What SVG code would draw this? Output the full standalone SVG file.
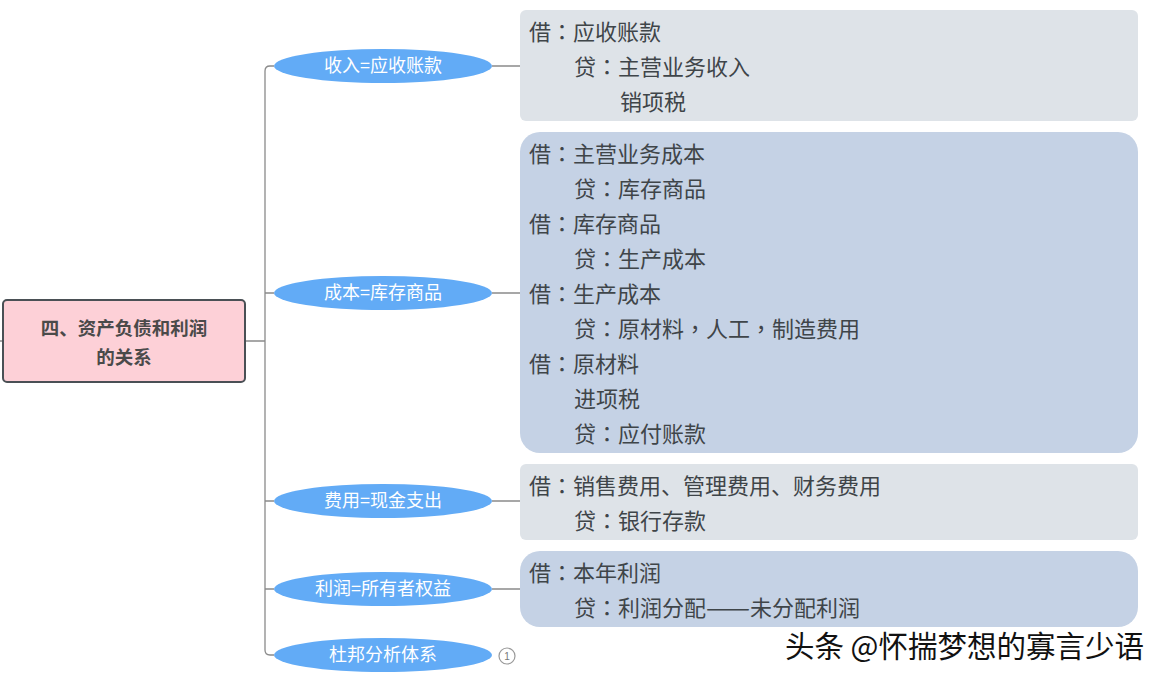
<svg xmlns="http://www.w3.org/2000/svg" width="1166" height="679" viewBox="0 0 1166 679">
<style>
.ln{fill:none;stroke:#8a8a8a;stroke-width:1.3}
.el{fill:#62abf6}
.et{font-family:"Noto Sans CJK SC","Liberation Sans",sans-serif;font-size:18px;fill:#fff;text-anchor:middle}
.bt{font-family:"Noto Sans CJK SC","Liberation Sans",sans-serif;font-size:22px;fill:#3f4549}
.p{font-family:"Noto Sans CJK TC","Noto Sans CJK SC",sans-serif}
.g{fill:#dee3e8}
.b{fill:#c5d2e5}
.rt{font-family:"Noto Sans CJK SC","Liberation Sans",sans-serif;font-size:18.5px;font-weight:bold;fill:#4a4a4a;text-anchor:middle}
</style>
<rect width="1166" height="679" fill="#fff"/>
<g id="connectors">
<path class="ln" d="M0,341 H3 M245,341 H265"/>
<path class="ln" d="M274,66 H270 Q265,66 265,71 V650 Q265,655 270,655 H274"/>
<path class="ln" d="M265,293 H274 M265,501 H274 M265,589 H274"/>
<path class="ln" d="M492,66 H520 M492,293 H520 M492,501 H520 M492,589 H520"/>
</g>
<g id="root">
<rect x="3" y="300" width="242" height="82" rx="4" fill="#fdd0d7" stroke="#4a5055" stroke-width="2"/>
<text class="rt" x="124" y="335">四、资产负债和利润</text>
<text class="rt" x="124" y="364">的关系</text>
</g>
<g id="n1"><ellipse class="el" cx="383" cy="66" rx="109" ry="17"/><text class="et" x="383" y="72">收入=应收账款</text></g>
<g id="n2"><ellipse class="el" cx="383" cy="293" rx="109" ry="17"/><text class="et" x="383" y="299">成本=库存商品</text></g>
<g id="n3"><ellipse class="el" cx="383" cy="501" rx="109" ry="17"/><text class="et" x="383" y="507">费用=现金支出</text></g>
<g id="n4"><ellipse class="el" cx="383" cy="589" rx="109" ry="17"/><text class="et" x="383" y="595">利润=所有者权益</text></g>
<g id="n5"><ellipse class="el" cx="383" cy="655" rx="109" ry="17"/><text class="et" x="383" y="661">杜邦分析体系</text>
<circle cx="507" cy="656" r="8" fill="#fff" stroke="#999" stroke-width="1.2"/><text x="507" y="660" text-anchor="middle" font-family="Liberation Sans,sans-serif" font-size="10" fill="#777">1</text></g>
<g id="box1"><rect class="g" x="520" y="10" width="618" height="111" rx="6"/>
<text class="bt" x="529" y="40">借<tspan class="p">：</tspan>应收账款</text>
<text class="bt" x="574" y="75">贷<tspan class="p">：</tspan>主营业务收入</text>
<text class="bt" x="620" y="110">销项税</text></g>
<g id="box2"><rect class="b" x="520" y="132" width="618" height="321" rx="20"/>
<text class="bt" x="529" y="162">借<tspan class="p">：</tspan>主营业务成本</text>
<text class="bt" x="574" y="197">贷<tspan class="p">：</tspan>库存商品</text>
<text class="bt" x="529" y="232">借<tspan class="p">：</tspan>库存商品</text>
<text class="bt" x="574" y="267">贷<tspan class="p">：</tspan>生产成本</text>
<text class="bt" x="529" y="302">借<tspan class="p">：</tspan>生产成本</text>
<text class="bt" x="574" y="337">贷<tspan class="p">：</tspan>原材料<tspan class="p">，</tspan>人工<tspan class="p">，</tspan>制造费用</text>
<text class="bt" x="529" y="372">借<tspan class="p">：</tspan>原材料</text>
<text class="bt" x="574" y="407">进项税</text>
<text class="bt" x="574" y="442">贷<tspan class="p">：</tspan>应付账款</text></g>
<g id="box3"><rect class="g" x="520" y="464" width="618" height="76" rx="6"/>
<text class="bt" x="529" y="494">借<tspan class="p">：</tspan>销售费用、管理费用、财务费用</text>
<text class="bt" x="574" y="529">贷<tspan class="p">：</tspan>银行存款</text></g>
<g id="box4"><rect class="b" x="520" y="551" width="618" height="76" rx="20"/>
<text class="bt" x="529" y="581">借<tspan class="p">：</tspan>本年利润</text>
<text class="bt" x="574" y="616">贷<tspan class="p">：</tspan>利润分配<tspan textLength="44" lengthAdjust="spacingAndGlyphs">——</tspan>未分配利润</text></g>
<text x="785" y="657" font-family="Noto Sans CJK SC,Liberation Sans,sans-serif" font-size="29.5" fill="#111" stroke="#fff" stroke-width="0.6" paint-order="stroke">头条 @怀揣梦想的寡言少语</text>
</svg>
